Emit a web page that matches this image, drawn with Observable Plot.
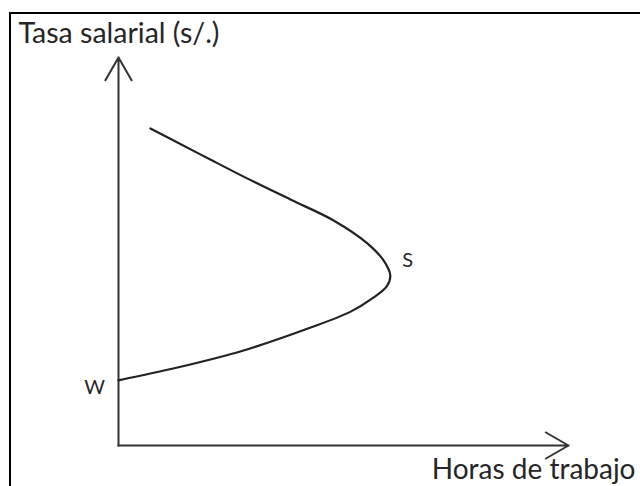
<!DOCTYPE html>
<html>
<head>
<meta charset="utf-8">
<script src="https://cdn.jsdelivr.net/npm/d3@7"></script>
<script src="https://cdn.jsdelivr.net/npm/@observablehq/plot@0.6"></script>
<style>
  html, body { margin: 0; padding: 0; background: #fff; overflow: hidden; }
  #wrap { position: relative; width: 640px; height: 486px; }
  #frame { position: absolute; left: 9px; top: 12px; width: 700px; height: 600px;
           border-top: 2px solid #000; border-left: 2px solid #000; pointer-events: none; }
  #chart { position: absolute; left: 0; top: 0; }
</style>
</head>
<body>
<div id="wrap"><div id="chart"></div><div id="frame"></div></div>
<script>
// Labour supply curve (backward-bending)
const hours = [7.1, 13.1, 20.4, 27.8, 38.2, 47.8, 55.3, 58.9, 60.4, 59.6, 56.4, 51.6, 42.7, 27.8, 13.1, 0];
const wages = [81.7, 78.1, 73.7, 69.3, 63.4, 58.0, 52.1, 47.7, 43.8, 41.0, 37.9, 34.5, 30.4, 24.5, 20.1, 16.8];
const yTitle = "Tasa salarial (s/.)";
const xTitle = "Horas de trabajo";
const curveLabel = "S";
const startLabel = "W";
const axisMax = 100;

const curve = hours.map((h, i) => ({hours: h, wage: wages[i]}));
const axes = [
  {x1: 0, y1: 0, x2: 0, y2: axisMax},
  {x1: 0, y1: 0, x2: axisMax, y2: 0}
];
const nose = curve[hours.indexOf(d3.max(hours))];
const start = curve[curve.length - 1];

const chart = Plot.plot({
  width: 640,
  height: 486,
  marginLeft: 118,
  marginRight: 72,
  marginTop: 57,
  marginBottom: 41,
  x: {domain: [0, axisMax], axis: null},
  y: {domain: [0, axisMax], axis: null},
  style: {fontFamily: "Lato, 'Open Sans', sans-serif", background: "transparent", color: "#262626"},
  marks: [
    Plot.arrow(axes, {x1: "x1", y1: "y1", x2: "x2", y2: "y2", stroke: "#333", strokeWidth: 2,
      headAngle: 60, headLength: 19.5, strokeLinecap: "square"}),
    Plot.line(curve, {x: "hours", y: "wage", curve: "catmull-rom", stroke: "#222", strokeWidth: 2.2}),
    Plot.text([startLabel], {x: () => start.hours, y: () => start.wage, text: d => d, fontSize: 20,
      textAnchor: "middle", lineAnchor: "bottom", dx: -24, dy: 14, fill: "#262626"}),
    Plot.text([curveLabel], {x: () => nose.hours, y: () => nose.wage, text: d => d, fontSize: 20,
      textAnchor: "start", lineAnchor: "bottom", dx: 12, dy: -9, fill: "#262626"}),
    Plot.text([yTitle], {frameAnchor: "top-left", text: d => d, fontSize: 28.5, textAnchor: "start",
      lineAnchor: "bottom", dx: -100, dy: -15, fill: "#262626"}),
    Plot.text([xTitle], {frameAnchor: "bottom-right", text: d => d, fontSize: 28, textAnchor: "end",
      lineAnchor: "bottom", dx: 67, dy: 33, fill: "#262626"})
  ]
});
document.getElementById("chart").append(chart);
</script>
</body>
</html>
